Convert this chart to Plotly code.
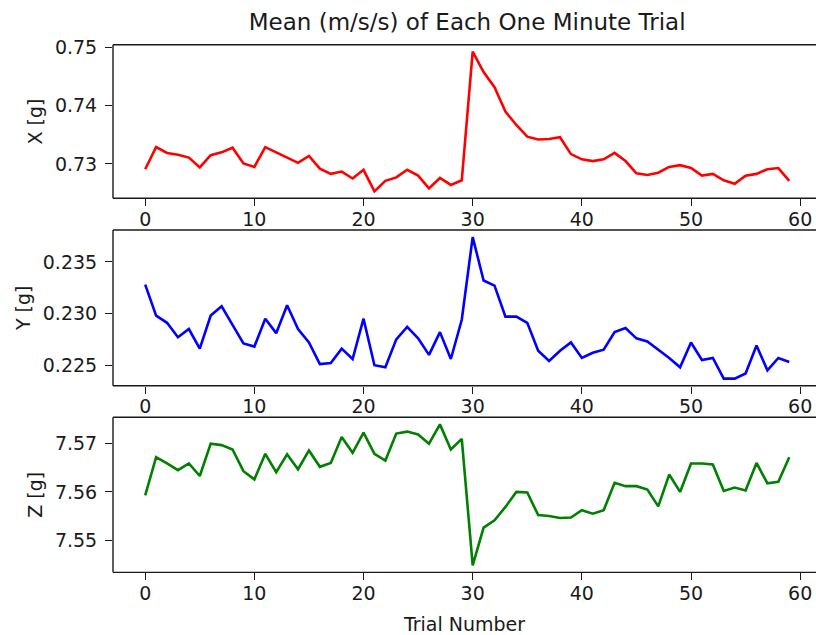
import plotly.graph_objects as go
from plotly.subplots import make_subplots

# Trial index and per-trial mean acceleration for each axis
trials = list(range(60))

x_mean = [
    0.7291, 0.7329, 0.7319, 0.7316, 0.7311, 0.7294, 0.7315, 0.7320, 0.7328, 0.7301,
    0.7295, 0.7329, 0.7320, 0.7311, 0.7302, 0.7314, 0.7292, 0.7283, 0.7287, 0.7275,
    0.7290, 0.7253, 0.7271, 0.7277, 0.7290, 0.7280, 0.7258, 0.7276, 0.7264, 0.7272,
    0.7493, 0.7458, 0.7432, 0.7390, 0.7367, 0.7347, 0.7342, 0.7343, 0.7346, 0.7317,
    0.7308, 0.7305, 0.7308, 0.7319, 0.7305, 0.7284, 0.7281, 0.7285, 0.7295, 0.7298,
    0.7293, 0.7280, 0.7283, 0.7272, 0.7266, 0.7280, 0.7283, 0.7291, 0.7293, 0.7271,
]

y_mean = [
    0.2328, 0.2298, 0.2291, 0.2277, 0.2285, 0.2266, 0.2298, 0.2307, 0.2289, 0.2271,
    0.2268, 0.2295, 0.2281, 0.2308, 0.2285, 0.2272, 0.2251, 0.2252, 0.2266, 0.2256,
    0.2295, 0.2250, 0.2248, 0.2275, 0.2287, 0.2276, 0.2260, 0.2282, 0.2256, 0.2294,
    0.2374, 0.2332, 0.2327, 0.2297, 0.2297, 0.2291, 0.2264, 0.2254, 0.2264, 0.2272,
    0.2257, 0.2262, 0.2265, 0.2282, 0.2286, 0.2276, 0.2273, 0.2265, 0.2257, 0.2248,
    0.2272, 0.2255, 0.2257, 0.2237, 0.2237, 0.2242, 0.2269, 0.2245, 0.2257, 0.2253,
]

z_mean = [
    7.5593, 7.5672, 7.5659, 7.5645, 7.5659, 7.5633, 7.5700, 7.5697, 7.5688, 7.5643,
    7.5626, 7.5679, 7.5641, 7.5678, 7.5647, 7.5686, 7.5652, 7.5660, 7.5714, 7.5681,
    7.5723, 7.5679, 7.5665, 7.5721, 7.5725, 7.5719, 7.5700, 7.5740, 7.5688, 7.5710,
    7.5448, 7.5526, 7.5541, 7.5569, 7.5600, 7.5599, 7.5552, 7.5550, 7.5546, 7.5547,
    7.5562, 7.5555, 7.5562, 7.5619, 7.5612, 7.5612, 7.5605, 7.5570, 7.5636, 7.5600,
    7.5659, 7.5659, 7.5657, 7.5602, 7.5609, 7.5603, 7.5660, 7.5618, 7.5621, 7.5672,
]

series = [
    (x_mean, "red", "X [g]", ".2f", 0.01),
    (y_mean, "blue", "Y [g]", ".3f", 0.005),
    (z_mean, "green", "Z [g]", ".2f", 0.01),
]

x_ticks = [0, 10, 20, 30, 40, 50, 60]

FONT = "DejaVu Sans"
INK = "#1a1a1a"

fig = make_subplots(rows=3, cols=1, shared_xaxes=False, vertical_spacing=0.05)

domains = [[0.6877, 0.9296], [0.3926, 0.6378], [0.0987, 0.3428]]

for i, (vals, color, label, fmt, step) in enumerate(series, start=1):
    fig.add_trace(
        go.Scatter(x=trials, y=vals, mode="lines",
                   line=dict(color=color, width=2.6), showlegend=False),
        row=i, col=1,
    )
    lo, hi = min(vals), max(vals)
    pad = 0.05 * (hi - lo)
    fig.update_yaxes(
        row=i, col=1,
        domain=domains[i - 1],
        range=[lo - pad, hi + pad],
        dtick=step, tickformat=fmt,
        automargin=False,
        showgrid=False, zeroline=False, showline=False,
        ticks="outside", ticklen=7, tickwidth=1.3, tickcolor=INK,
        ticklabelstandoff=4,
        tickfont=dict(family=FONT, size=19, color=INK),
        title=dict(text=label, font=dict(family=FONT, size=19, color=INK),
                   standoff=7),
    )
    fig.update_xaxes(
        row=i, col=1,
        range=[-2.95, 61.45],
        tickvals=x_ticks,
        automargin=False,
        showgrid=False, zeroline=False, showline=False,
        ticks="outside", ticklen=7, tickwidth=1.3, tickcolor=INK,
        ticklabelstandoff=-3,
        tickfont=dict(family=FONT, size=19, color=INK),
    )
    # axes frame: left, top and bottom spines (the right side runs off the canvas)
    xr = "x domain" if i == 1 else f"x{i} domain"
    yr = "y domain" if i == 1 else f"y{i} domain"
    spine = dict(type="line", xref=xr, yref=yr,
                 line=dict(color=INK, width=1.4), layer="above")
    fig.add_shape(x0=0, x1=0, y0=0, y1=1, **spine)
    fig.add_shape(x0=0, x1=1.02, y0=1, y1=1, **spine)
    fig.add_shape(x0=0, x1=1.02, y0=0, y1=0, **spine)

fig.update_xaxes(
    row=3, col=1,
    title=dict(text="Trial Number", font=dict(family=FONT, size=19, color=INK),
               standoff=14),
)

fig.update_layout(
    width=816, height=635,
    margin=dict(l=113, r=0, t=0, b=0, autoexpand=False),
    paper_bgcolor="white", plot_bgcolor="white",
    title=dict(text="Mean (m/s/s) of Each One Minute Trial",
               font=dict(family=FONT, size=23, color=INK),
               x=0.5725, xanchor="center", xref="container",
               y=1 - 22 / 635, yanchor="middle", yref="container",
               automargin=False),
)

fig.write_html("out.html")
